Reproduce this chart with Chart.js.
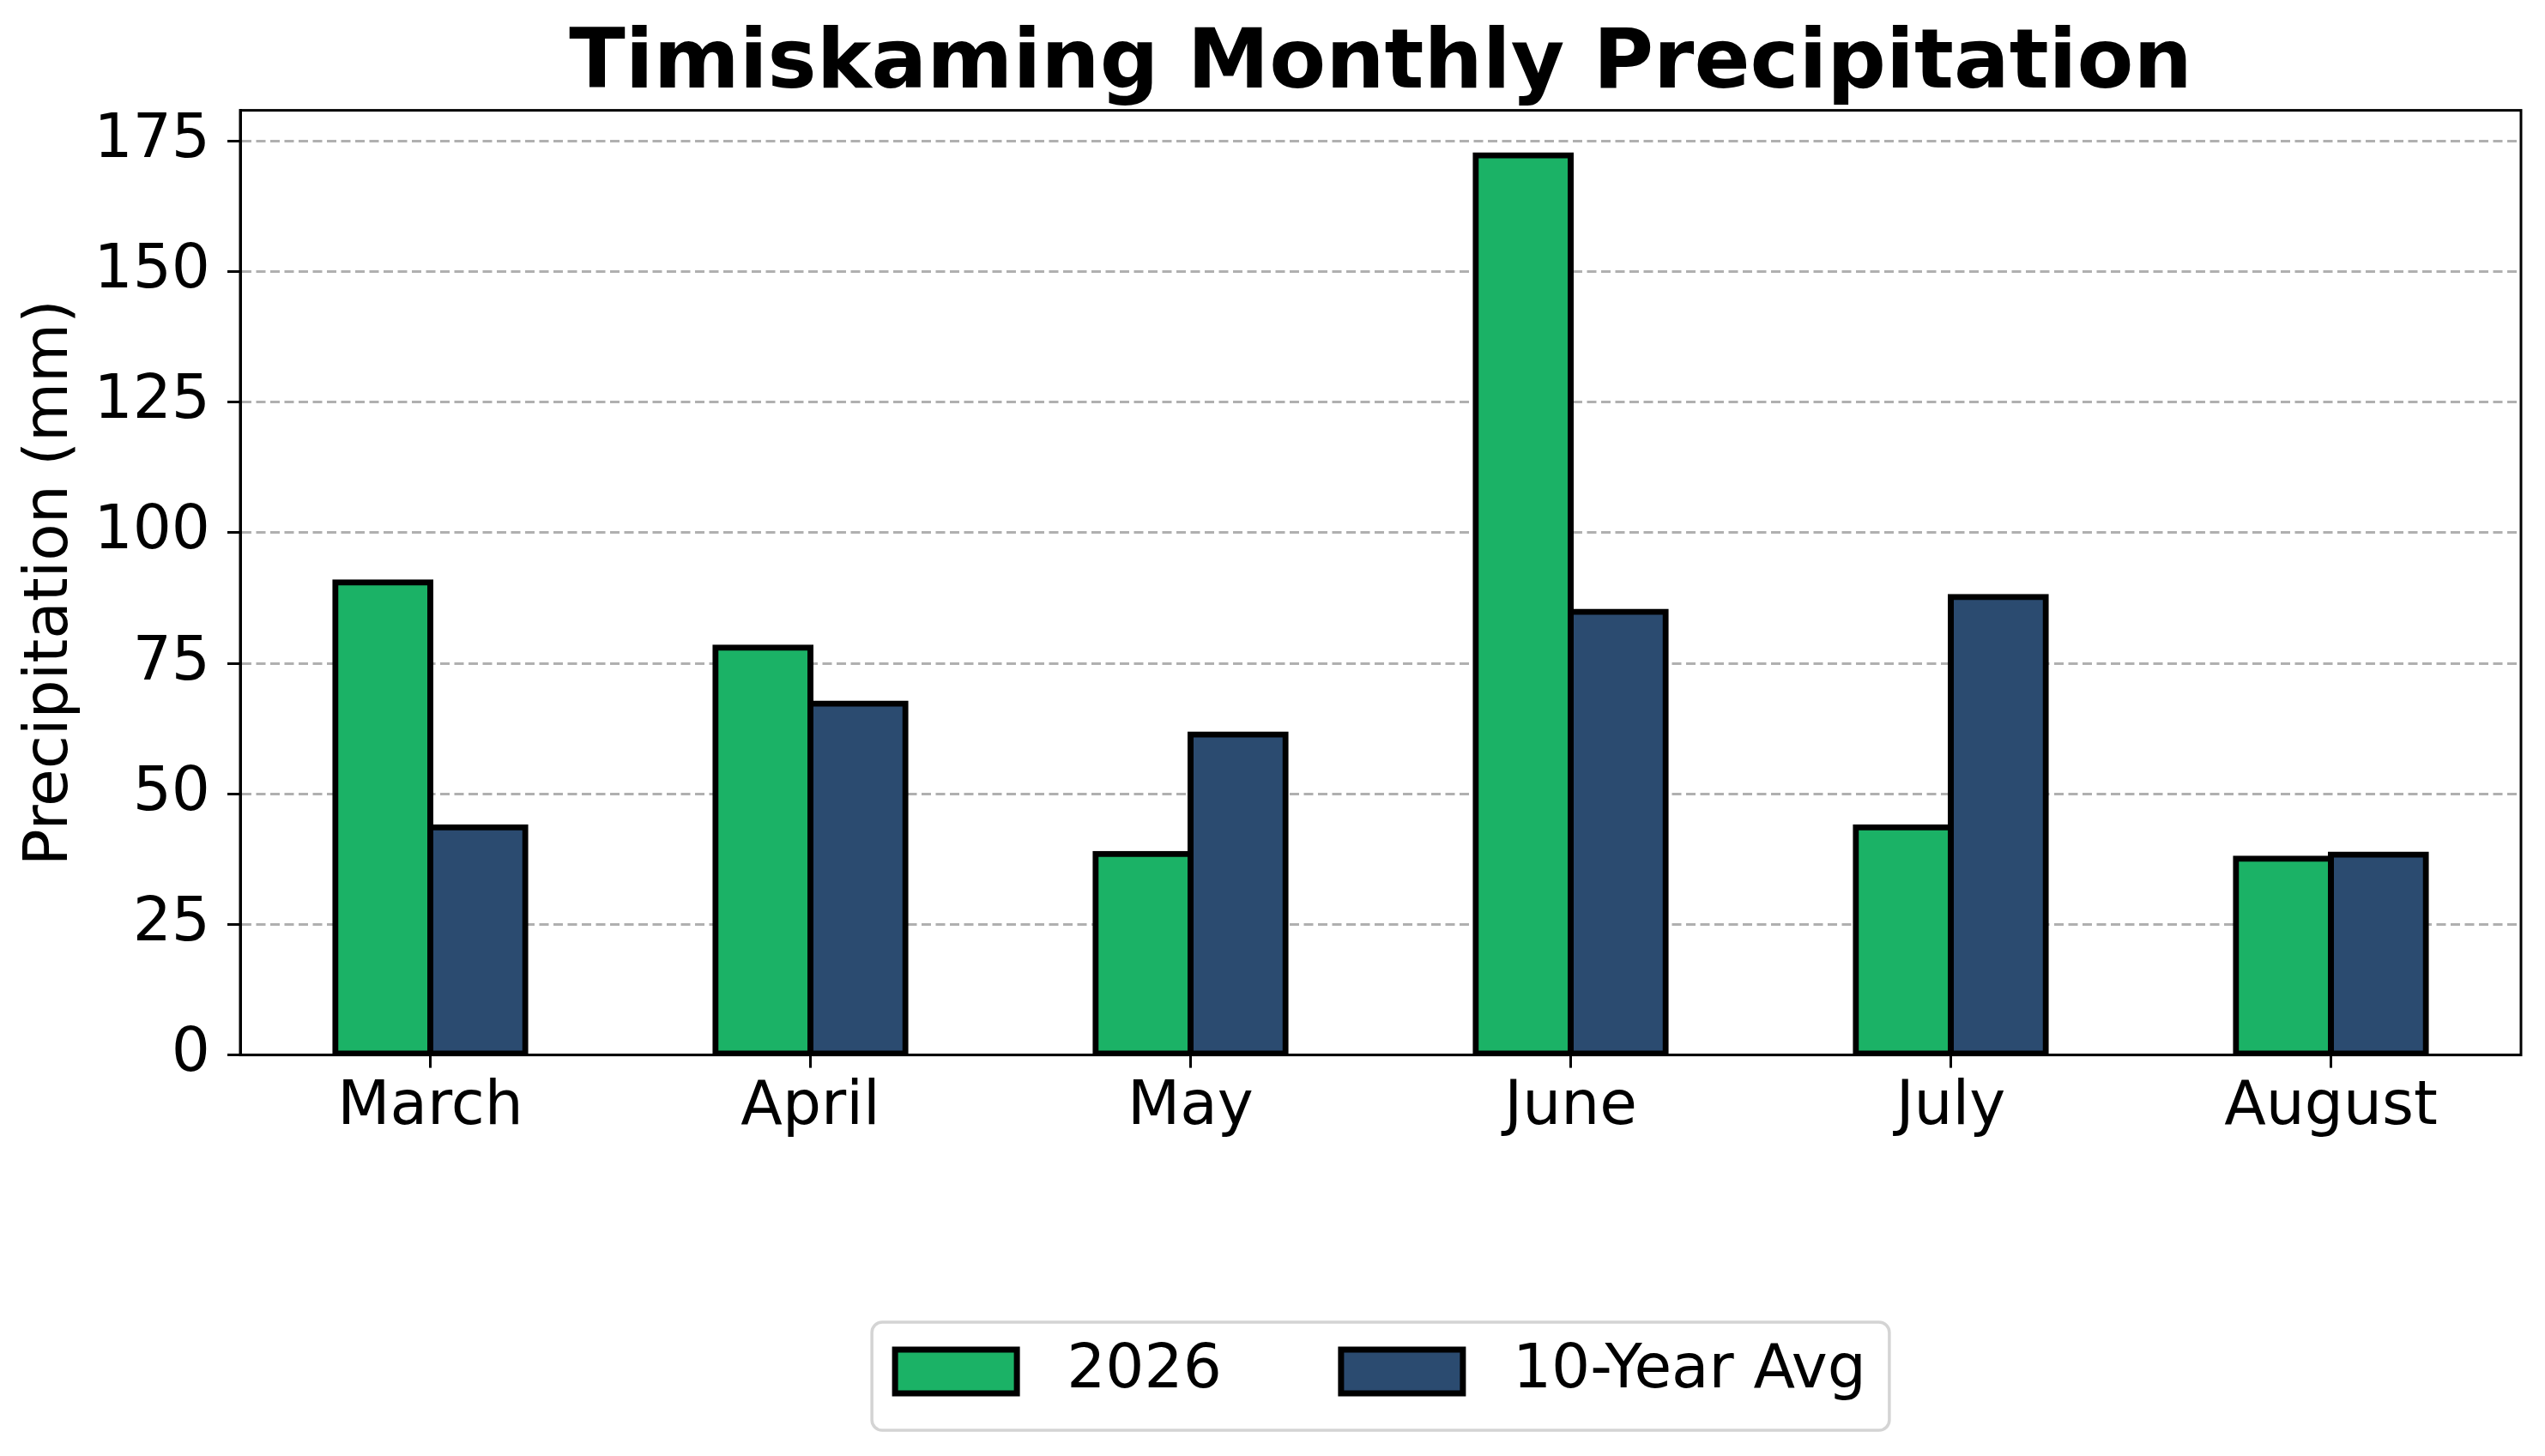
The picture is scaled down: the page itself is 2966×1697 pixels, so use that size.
<!DOCTYPE html>
<html>
<head>
<meta charset="utf-8">
<title>Timiskaming Monthly Precipitation</title>
<script src="https://cdn.jsdelivr.net/npm/chart.js@4.4.1/dist/chart.umd.min.js"></script>
<style>
  html, body { margin: 0; padding: 0; background: #fff; }
  #chart { display: block; }
</style>
</head>
<body>
<canvas id="chart" width="2966" height="1697" style="width:2966px;height:1697px"></canvas>
<script>
// chart data
const months = ["March", "April", "May", "June", "July", "August"];
const precip2026 = [90.5, 78.0, 38.5, 172.3, 43.6, 37.6];
const tenYearAvg = [43.6, 67.3, 61.4, 84.9, 87.7, 38.4];
const seriesNames = ["2026", "10-Year Avg"];
const yTickStep = 25;

Chart.defaults.font.family = "'DejaVu Sans', sans-serif";
Chart.defaults.color = "#000";

// black box round the plot area (all four spines)
const axesFrame = {
  id: "axesFrame",
  afterDatasetsDraw(chart) {
    const a = chart.chartArea;
    const ctx = chart.ctx;
    ctx.save();
    ctx.strokeStyle = "#000";
    ctx.lineWidth = 3;
    ctx.strokeRect(a.left, a.top, a.right - a.left, a.bottom - a.top);
    ctx.restore();
  }
};

// rounded grey frame round the legend row
const legendFrame = {
  id: "legendFrame",
  afterDraw(chart) {
    const lg = chart.legend;
    if (!lg || !lg.legendHitBoxes || !lg.legendHitBoxes.length) return;
    const pad = lg.options.labels.padding;
    let rowW = 0;
    lg.legendHitBoxes.forEach((b, i) => { rowW += b.width + (i > 0 ? pad : 0); });
    const cx = (lg.left + lg.right) / 2;
    const rowY = lg.top + pad;
    const x0 = cx - rowW / 2 - 27;
    const x1 = cx + rowW / 2 + 27;
    const y0 = rowY - 22;
    const y1 = rowY + 104;
    const ctx = chart.ctx;
    ctx.save();
    ctx.strokeStyle = "#d4d4d4";
    ctx.lineWidth = 3.5;
    ctx.beginPath();
    ctx.roundRect(x0, y0, x1 - x0, y1 - y0, 12);
    ctx.stroke();
    ctx.restore();
  }
};

const ctx = document.getElementById("chart").getContext("2d");
const precipChart = new Chart(ctx, {
  type: "bar",
  data: {
    labels: months,
    datasets: [{
      label: seriesNames[0],
      data: precip2026,
      backgroundColor: "#1bb266",
      borderColor: "#000",
      borderWidth: 7,
      borderSkipped: false,
      inflateAmount: 3.5,
      categoryPercentage: 0.5,
      barPercentage: 1
    }, {
      label: seriesNames[1],
      data: tenYearAvg,
      backgroundColor: "#2b4b70",
      borderColor: "#000",
      borderWidth: 7,
      borderSkipped: false,
      inflateAmount: 3.5,
      categoryPercentage: 0.5,
      barPercentage: 1
    }]
  },
  options: {
    responsive: false,
    devicePixelRatio: 1,
    animation: false,
    layout: {
      padding: { left: 0, right: 28, top: 0, bottom: 53 }
    },
    scales: {
      x: {
        afterFit: function(scale) { scale.height = 194.4; },
        grid: {
          offset: false,
          drawOnChartArea: false,
          drawTicks: true,
          tickLength: 15,
          tickWidth: 3,
          tickColor: "#000",
          tickBorderDash: []
        },
        border: { display: true, color: "#000", width: 3 },
        ticks: {
          font: { size: 71 },
          color: "#000",
          padding: 4,
          maxRotation: 0
        }
      },
      y: {
        min: 0,
        max: 180.9,
        afterFit: function(scale) { scale.width = 280; },
        grid: {
          color: "#b0b0b0",
          lineWidth: 3,
          drawTicks: true,
          tickLength: 15,
          tickWidth: 3,
          tickColor: "#000",
          tickBorderDash: []
        },
        border: { display: true, color: "#000", width: 3, dash: [11, 5.5] },
        ticks: {
          stepSize: yTickStep,
          includeBounds: false,
          font: { size: 71 },
          color: "#000",
          padding: 20
        },
        title: {
          display: true,
          text: "Precipitation (mm)",
          font: { size: 71 },
          color: "#000",
          padding: { top: 17, bottom: 0 }
        }
      }
    },
    plugins: {
      title: {
        display: true,
        text: "Timiskaming Monthly Precipitation",
        fullSize: false,
        color: "#000",
        font: { size: 96, weight: "bold", lineHeight: 1 },
        padding: { top: 29, bottom: 3.6 }
      },
      legend: {
        display: true,
        position: "bottom",
        fullSize: false,
        align: "center",
        labels: {
          font: { size: 71 },
          color: "#000",
          boxWidth: 142,
          boxHeight: 51,
          padding: 139,
          // a leading space widens the gap between swatch and label
          generateLabels: function(chart) {
            return Chart.defaults.plugins.legend.labels.generateLabels(chart).map(function(item) {
              item.text = " " + item.text;
              return item;
            });
          }
        }
      },
      tooltip: { enabled: false }
    }
  },
  plugins: [axesFrame, legendFrame]
});
</script>
</body>
</html>
